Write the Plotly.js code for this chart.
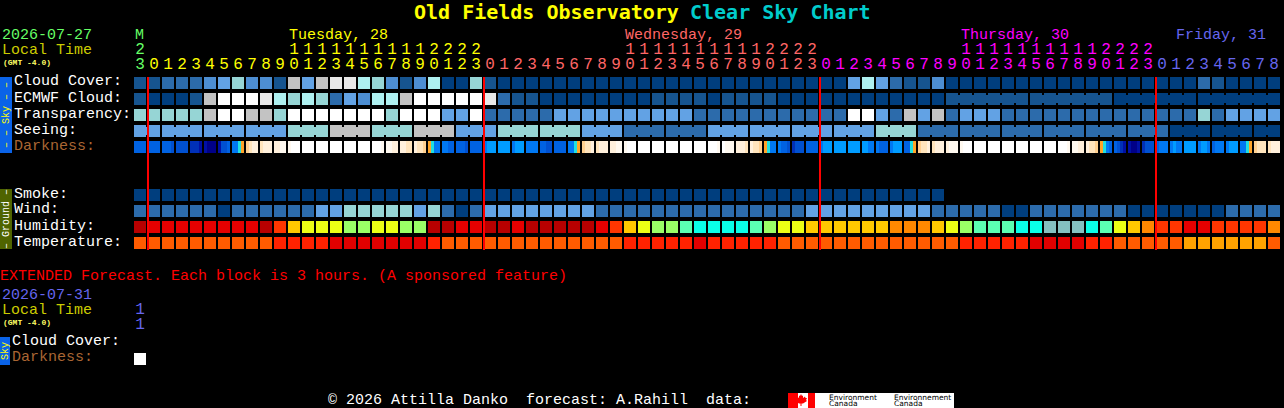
<!DOCTYPE html>
<html><head><meta charset="utf-8">
<script src="https://cdn.plot.ly/plotly-3.0.1.min.js"></script>
<style>html,body{margin:0;padding:0;background:#000;overflow:hidden}#c{width:1284px;height:408px}</style>
</head><body><div id="c"></div>
<script>
// ---------- palettes ----------
const skyPalette = ['#003E7E','#16548F','#2C6BAB','#4D8ED2','#62A2E4','#96D5D5','#AEF0F0','#C3C3C3','#E8E8E8','#FFFFFF'];
const humidityPalette = ['#B80000','#E60000','#FF3600','#FF8800','#FFC800','#ECFF15','#9AFF66','#5BFFB2','#0AFFE8','#84C0C0'];
const temperaturePalette = ['#E10000','#FF2200','#FF5B00','#FFA200'];
const darknessPalette = ['#000088','#0010A4','#0030B8','#0050D0','#0062E2','#0078F2','#009CFF','#20E0E0','#FFA428','#FFD090','#FFE4BC','#FFF0DC','#FFF9F0','#FFFFFF'];

// ---------- data (levels) ----------
const cloudCover = [1,1,2,2,2,3,4,5,3,3, 1,7,4,7,8,8,6,5,3,1, 3,6,0,0,5,1,0,0,0,0, 0,0,0,0,0,0,0,0,0,0,
  0,0,0,0,0,0,0,0,0,0, 0,4,6,4,2,1,1,3,0,0, 0,0,0,0,0,0,0,0,0,0, 0,0,0,0,0,0,2,1,0,0, 0,0];
const ecmwfCloud = [1,0,0,0,1,7,9,9,9,8, 6,5,6,5,2,4,3,6,6,7, 9,9,9,9,9,8,2,1,1,0, 0,0,0,0,0,0,0,1,1,1,
  1,0,1,1,1,1,0,0,0,0, 0,0,0,0,0,0,0,0,1,1, 1,1,1,1,1,1,1,1,1,1, 0,0,0,0,0,0,0,0,0,0, 0,0];
const ecmwfBlockStarts = [58,64,70,76];
const transparency = [5,5,5,5,5,7,9,9,7,7, 5,9,9,9,9,9,9,9,5,9, 9,9,4,4,9,2,2,2,2,2, 4,4,4,4,4,4,4,4,4,4,
  2,2,2,2,2,2,2,2,2,2, 2,9,9,4,2,7,4,7,2,4, 4,4,2,2,2,2,2,2,2,2, 2,2,2,2,2,2,5,2,4,4, 4,4];
const seeing = [4,4,4,4,4,4,4,4,4,4, 4,5,5,5,7,7,7,5,5,5, 7,7,7,4,4,4,5,5,5,5, 5,5,4,4,4,2,2,2,2,2,
  2,4,4,4,4,4,4,4,4,4, 4,4,4,5,5,5,2,2,2,2, 2,2,2,2,2,2,2,2,2,2, 2,2,2,2,0,0,0,0,0,0, 0,0];
const seeingBlockStarts = [2,5,8,11,14,17,20,23,26,29,32,35,38,41,44,47,50,53,56,59,62,65,68,71,74,77,80];
const darkness = ['4444','4444','4443','3333','2221','1000','1334','5578','9abb','abbb',
  'bbcc','cddd','dddd','dddd','dddd','dddd','dddd','dddc','ccbb','bbaa',
  'baa9','8755','5544','4443','4444','5666','6666','5666','5555','4433',
  '4444','5578','9aab','abbb','bbcc','cddd','dddd','dddd','dddd','dddd',
  'dddd','dddc','dccc','bbba','baa9','8755','5443','2333','4444','5666',
  '6666','6666','6655','5444','5666','4478','9aab','abbb','bccc','cddd',
  'dddd','dddd','dddd','dddd','dddd','dddd','dddc','ccbb','baa9','8754',
  '4321','1001','2333','4555','5655','6666','5665','4555','5666','5578',
  '9aaa','abbb'];
const smoke = [0,0,0,0,0,0,0,0,0,0, 0,0,0,0,0,0,0,0,0,0, 0,0,0,0,0,0,0,0,0,0, 0,0,0,0,0,0,0,0,0,0,
  0,0,0,0,0,0,0,0,0,0, 0,0,0,0,0,0,0,0];
const wind = [2,2,2,2,2,2,0,2,2,2, 2,2,2,4,4,5,5,5,5,5, 4,5,2,0,2,4,4,4,4,4, 4,4,4,2,2,2,2,2,2,2,
  2,2,2,2,2,2,2,2,4,4, 4,4,4,4,4,4,4,2,2,2, 2,2,0,0,2,2,2,2,2,2, 2,0,0,0,0,0,0,0,2,2, 2,2];
const humidity = [0,1,1,1,1,1,1,1,1,0, 2,4,5,5,5,6,6,5,5,6, 6,0,0,1,1,0,0,1,0,0, 0,0,0,1,2,4,5,6,6,7,
  8,8,8,8,7,6,5,5,4,4, 4,4,4,4,3,3,3,4,5,6, 7,7,7,8,8,9,9,9,8,7, 5,4,3,2,2,1,1,2,2,2, 2,3];
const temperature = [2,2,2,2,2,2,2,2,2,2, 1,1,1,1,0,0,0,0,0,0, 0,1,2,2,2,2,2,2,2,2, 2,2,2,2,2,1,1,1,1,1,
  0,1,1,1,1,1,2,2,2,2, 2,2,2,2,2,2,2,2,2,1, 1,1,1,1,0,0,0,0,1,1, 2,2,2,2,2,3,3,3,3,3, 3,2];
const extendedDarkness = [13];

const hourTens = ['2','','','','','','','','','','','1','1','1','1','1','1','1','1','1','1','2','2','2','2',
  '','','','','','','','','','','1','1','1','1','1','1','1','1','1','1','2','2','2','2',
  '','','','','','','','','','','1','1','1','1','1','1','1','1','1','1','2','2','2','2',
  '','','','','','','','',''];
const hourOnes = ['3','0','1','2','3','4','5','6','7','8','9','0','1','2','3','4','5','6','7','8','9','0','1','2','3',
  '0','1','2','3','4','5','6','7','8','9','0','1','2','3','4','5','6','7','8','9','0','1','2','3',
  '0','1','2','3','4','5','6','7','8','9','0','1','2','3','4','5','6','7','8','9','0','1','2','3',
  '0','1','2','3','4','5','6','7','8'];
const midnights = [1,25,49,73];
const dayStarts = [0,1,25,49,73];
const dayColors = ['#66FF66','#FFFF00','#FF6666','#FF00FF','#6666EE'];

// ---------- scales: x in hour cells (14px), y in rows (16px) ----------
const W = 1284, H = 408;
const MONO = 'Liberation Mono';
const rowOf = px => (px - 83) / 16;
const R = {cloud:0, ecmwf:1, transp:2, seeing:3, dark:4, smoke:7, wind:8, hum:9, temp:10};
const px2x = p => p / W, px2y = p => 1 - p / H;
const hours = cloudCover.map((_, i) => i);
const scale = pal => pal.map((c, i) => [i / (pal.length - 1), c]);

function row(values, y, pal, ygap, xs, xgap) {
  return {type:'heatmap', x: xs || hours.slice(0, values.length), y:[y], z:[values],
    colorscale: scale(pal), zmin:0, zmax:pal.length-1, showscale:false, hoverinfo:'skip',
    xgap: xgap === undefined ? 2 : xgap, ygap: ygap, zsmooth:false};
}
function neck(values, y, joined) {
  const xs = [], z = [];
  for (let i = 0; i < values.length - 1; i++) { xs.push(i + 0.5); z.push(joined(i + 1) ? values[i] : null); }
  return row(z, y, skyPalette, 8, xs, 0);
}
function darkTrace(cells, y) {
  const edges = [], z = [];
  cells.forEach((s, i) => {
    for (let k = 0; k < 4; k++) { edges.push(i - 6/14 + k*3/14); z.push(parseInt(s[k], 14)); }
    edges.push(i + 6/14); z.push(null);
  });
  edges.push(cells.length - 6/14);
  return row(z, y, darknessPalette, 4, edges, 0);
}

const traces = [
  row(cloudCover, R.cloud, skyPalette, 4),
  neck(ecmwfCloud, R.ecmwf, i => i > 58 && !ecmwfBlockStarts.includes(i)),
  row(ecmwfCloud, R.ecmwf, skyPalette, 4),
  row(transparency, R.transp, skyPalette, 4),
  neck(seeing, R.seeing, i => !seeingBlockStarts.includes(i)),
  row(seeing, R.seeing, skyPalette, 4),
  darkTrace(darkness, R.dark),
  row(smoke, R.smoke, skyPalette, 4),
  row(wind, R.wind, skyPalette, 4),
  row(humidity, R.hum, humidityPalette, 4),
  row(temperature, R.temp, temperaturePalette, 4),
  row(extendedDarkness, rowOf(359), darknessPalette, 4, [0, 1])
];
traces[traces.length-1].z = [[extendedDarkness[0]]];
traces[traces.length-1].x = [0];

// hour labels
const colorAt = i => { let c = dayColors[0]; dayStarts.forEach((s, k) => { if (i >= s) c = dayColors[k]; }); return c; };
const hourFont = {family:MONO, size:16};
traces.push({type:'scatter', mode:'text', x:hours, y:hours.map(()=>rowOf(50)), text:hourTens, hoverinfo:'skip',
  textposition:'middle center', textfont:Object.assign({color:hours.map(colorAt)}, hourFont), cliponaxis:false, showlegend:false});
traces.push({type:'scatter', mode:'text', x:hours, y:hours.map(()=>rowOf(65)), text:hourOnes, hoverinfo:'skip',
  textposition:'middle center', textfont:Object.assign({color:hours.map(colorAt)}, hourFont), cliponaxis:false, showlegend:false});
traces.push({type:'scatter', mode:'text', x:[0,0], y:[rowOf(310),rowOf(325)], text:['1','1'], hoverinfo:'skip',
  textposition:'middle center', textfont:Object.assign({color:'#6666EE'}, hourFont), cliponaxis:false, showlegend:false});

// ---------- text ----------
function label(text, x, y, color, size, extra) {
  return Object.assign({text:text, xref:'paper', yref:'paper', x:px2x(x), y:px2y(y), xanchor:'left', yanchor:'middle',
    showarrow:false, borderpad:0, borderwidth:0, align:'left',
    font:{family:MONO, size:size||15, color:color}}, extra||{});
}
const rot = (text, x, y, color) => label(text, x, y, color, 10, {textangle:-90, xanchor:'center'});
const small = {font:{family:'DejaVu Sans', size:7.5, color:'#000'}};
const annotations = [
  label('<b>Old Fields Observatory</b>', 414, 12, '#FFFF00', 20, {font:{family:'DejaVu Sans Mono', size:20, color:'#FFFF00'}}),
  label('<b>Clear Sky Chart</b>', 690, 12, '#00CCCC', 20, {font:{family:'DejaVu Sans Mono', size:20, color:'#00CCCC'}}),
  label('2026-07-27', 2, 35, '#66FF66'),
  label('Local Time', 2, 50, '#CCCC00'),
  label('<b>(GMT -4.0)</b>', 3, 62, '#FFFF66', 8),
  label('M', 135, 35, '#66FF66'),
  label('Tuesday, 28', 289, 35, '#FFFF00'),
  label('Wednesday, 29', 625, 35, '#FF6666'),
  label('Thursday, 30', 961, 35, '#FF00FF'),
  label('Friday, 31', 1176, 35, '#6666EE'),
  label('Cloud Cover:', 14, 82, '#FFFFFF'),
  label('ECMWF Cloud:', 14, 98, '#FFFFFF'),
  label('Transparency:', 14, 114, '#FFFFFF'),
  label('Seeing:', 14, 130, '#FFFFFF'),
  label('Darkness:', 14, 146, '#AA6633'),
  label('Smoke:', 14, 194, '#FFFFFF'),
  label('Wind:', 14, 210, '#FFFFFF'),
  label('Humidity:', 14, 226, '#FFFFFF'),
  label('Temperature:', 14, 242, '#FFFFFF'),
  rot('\u2013\u00A0\u2013\u00A0Sky\u00A0\u2013\u00A0\u2013', 6, 115, '#FFFF00'),
  rot('\u2013\u00A0Ground\u00A0\u2013', 6, 219, '#FFFFFF'),
  label('EXTENDED Forecast. Each block is 3 hours. (A sponsored feature)', 0, 276, '#FF0000'),
  label('2026-07-31', 2, 295, '#6666EE'),
  label('Local Time', 2, 310, '#CCCC00'),
  label('<b>(GMT -4.0)</b>', 3, 322, '#FFFF66', 8),
  label('Cloud Cover:', 12, 341, '#FFFFFF'),
  label('Darkness:', 12, 357, '#AA6633'),
  rot('Sky', 5, 351, '#FFFF00'),
  label('\u00A9 2026 Attilla Danko\u00A0\u00A0forecast: A.Rahill\u00A0\u00A0data:', 328, 400, '#FFFFFF'),
  label('Environment', 829, 397, '#000000', 8, small),
  label('Canada', 829, 403.5, '#000000', 8, small),
  label('Environnement', 894, 397, '#000000', 8, small),
  label('Canada', 894, 403.5, '#000000', 8, small)
];

// ---------- decoration ----------
const box = (x0, y0, x1, y1, fill) => ({type:'rect', xref:'paper', yref:'paper', layer:'below',
  x0:px2x(x0), x1:px2x(x1), y0:px2y(y0), y1:px2y(y1), fillcolor:fill, line:{width:0}});
const leaf = [[801,394],[802,396],[803,395.5],[803,398],[805,396.5],[805.5,398],[807,398],[806,400],[807,401],[803,403.5],[801.5,403.5],[801.5,406],[800.5,406],[800.5,403.5],[799,403.5],[795,401],[796,400],[795,398],[796.5,398],[797,396.5],[799,398],[799,395.5],[800,396]];
const leafPath = 'M' + leaf.map(p => px2x(p[0]) + ',' + px2y(p[1])).join('L') + 'Z';
const shapes = [
  box(0,77,12,153,'#0A63E8'),
  box(0,189,12,249,'#4F6400'),
  box(0,337,10,365,'#0A63E8'),
  box(788,393,954,408,'#FFFFFF'),
  box(788,393,798,408,'#FF0000'),
  box(808,393,815,408,'#FF0000'),
  {type:'path', xref:'paper', yref:'paper', path:leafPath, fillcolor:'#FF0000', line:{width:0}, layer:'below'}
].concat(midnights.map(m => ({type:'line', xref:'x', yref:'y', x0:m-6/14, x1:m-6/14, y0:rowOf(77), y1:rowOf(250),
  line:{color:'#FF0000', width:2}, layer:'above'})));

Plotly.newPlot('c', traces, {
  width:W, height:H, margin:{l:0,r:0,t:0,b:0,pad:0}, showlegend:false,
  paper_bgcolor:'#000', plot_bgcolor:'#000',
  xaxis:{visible:false, range:[-10,(W-140)/14], fixedrange:true, autorange:false},
  yaxis:{visible:false, range:[(H-83)/16,-83/16], fixedrange:true, autorange:false},
  annotations:annotations, shapes:shapes
}, {displayModeBar:false, staticPlot:true});
</script></body></html>
